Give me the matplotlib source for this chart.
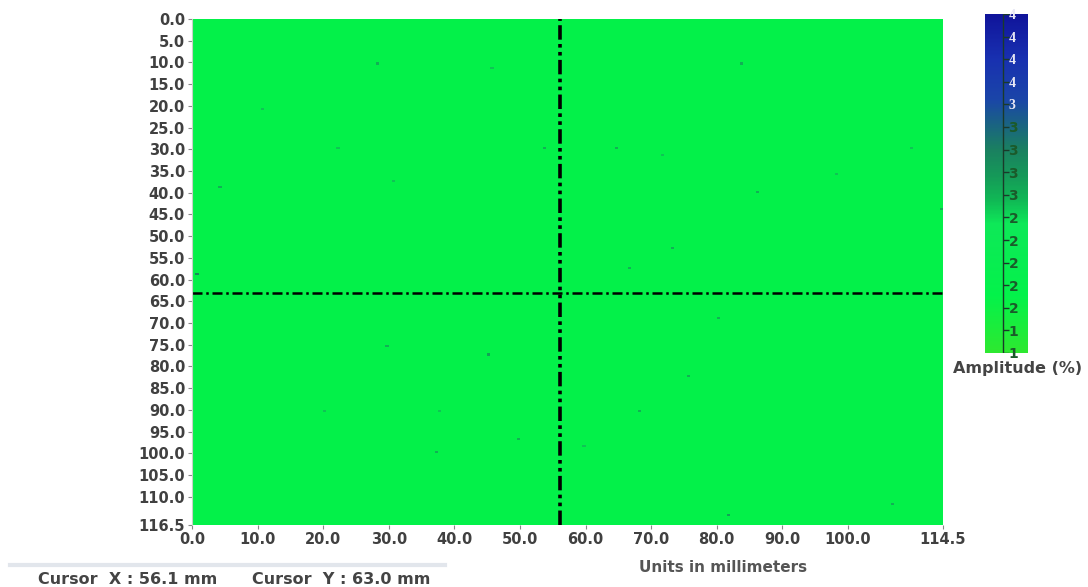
import numpy as np
import matplotlib
matplotlib.use('Agg')
import matplotlib.pyplot as plt
from matplotlib.colors import LinearSegmentedColormap

# ---------------- data ----------------
x_max = 114.5          # mm
y_max = 116.5          # mm
cell = 0.5             # mm per grid cell
base_amp = 1.5         # amplitude (%) of the (almost uniform) field

# scattered darker spots: x (mm), y (mm), amplitude (%)
spot_x = [28.2, 10.7, 4.3, 0.5, 30.6, 53.8, 45.7, 22.3, 83.8, 64.9, 71.6, 86.1, 73.3, 66.8,
          98.3, 114.0, 109.5, 29.7, 45.4, 37.3, 49.5, 37.5, 20.0, 80.0, 75.5, 68.3, 59.6,
          106.9, 81.6]
spot_y = [10.1, 20.5, 38.9, 58.9, 37.1, 29.5, 11.3, 29.7, 10.1, 29.7, 31.3, 39.8, 52.7, 57.1,
          35.9, 43.5, 29.5, 75.1, 77.4, 99.9, 96.5, 90.0, 90.0, 68.8, 82.4, 90.0, 98.1,
          111.9, 114.2]
spot_amp = [2.4, 2.3, 2.4, 2.7, 2.3, 2.4, 2.3, 2.3, 2.4, 2.4, 2.3, 2.4, 2.4, 2.4,
            2.3, 2.4, 2.3, 2.4, 2.5, 2.4, 2.4, 2.3, 2.3, 2.4, 2.4, 2.4, 2.3,
            2.4, 2.5]

cursor_x = 56.1
cursor_y = 63.0

y_ticks = [0, 5, 10, 15, 20, 25, 30, 35, 40, 45, 50, 55, 60, 65, 70, 75, 80, 85, 90, 95,
           100, 105, 110, 116.5]
x_ticks = [0, 10, 20, 30, 40, 50, 60, 70, 80, 90, 100, 114.5]

cbar_min, cbar_max = 1.0, 4.0
cbar_ticks = [1.0, 1.2, 1.4, 1.6, 1.8, 2.0, 2.2, 2.4, 2.6, 2.8, 3.0, 3.2, 3.4, 3.6, 3.8, 4.0]
cbar_labels = ['1', '1', '2', '2', '2', '2', '2', '3', '3', '3', '3', '3', '4', '4', '4', '4']

# ---------------- build grid ----------------
nx = int(round(x_max / cell))
ny = int(round(y_max / cell))
grid = np.full((ny, nx), base_amp)
for sx, sy, sa in zip(spot_x, spot_y, spot_amp):
    i = min(int(sy / cell), ny - 1)
    j = min(int(sx / cell), nx - 1)
    grid[i, j] = sa

cmap = LinearSegmentedColormap.from_list('amp', [
    (0.00, '#2ee830'),
    (0.167, '#03f24a'),
    (0.38, '#0ee858'),
    (0.45, '#10b855'),
    (0.52, '#159a58'),
    (0.60, '#1a8060'),
    (0.67, '#1a6580'),
    (0.75, '#1a45a8'),
    (0.87, '#1830b0'),
    (1.00, '#10149a'),
])

# ---------------- figure ----------------
fig = plt.figure(figsize=(10.88, 5.87), dpi=100)
ax = fig.add_axes([192 / 1088, 1 - 525 / 587, 751 / 1088, 506 / 587])

ax.imshow(grid, cmap=cmap, vmin=cbar_min, vmax=cbar_max, origin='upper',
          extent=[0, x_max, y_max, 0], aspect='auto', interpolation='nearest')
ax.set_xlim(0, x_max)
ax.set_ylim(y_max, 0)

# cursor cross-hair
ax.axvline(cursor_x, color='black', lw=2.6, dashes=(4, 1.2, 1, 1.2, 1, 1.2))
ax.axhline(cursor_y, color='black', lw=1.8, dashes=(4, 1.5, 1, 1.5))

ax.set_xticks(x_ticks)
ax.set_xticklabels(['%.1f' % v for v in x_ticks])
ax.set_yticks(y_ticks)
ax.set_yticklabels(['%.1f' % v for v in y_ticks])
ax.tick_params(axis='both', length=3, width=0.8, color='#888888', labelsize=10.5,
               labelcolor='#404040', pad=2)
for lab in ax.get_xticklabels() + ax.get_yticklabels():
    lab.set_fontweight('bold')
    lab.set_family('DejaVu Sans')
for s in ax.spines.values():
    s.set_visible(False)
ax.spines['left'].set_visible(True)
ax.spines['left'].set_color('#c8d0c8')
ax.spines['left'].set_linewidth(0.8)

# ---------------- colour bar ----------------
cax = fig.add_axes([985 / 1088, 1 - 353 / 587, 43 / 1088, 339 / 587])
cb = fig.colorbar(ax.images[0], cax=cax)
cb.outline.set_visible(False)
cax.set_yticks(cbar_ticks)
cax.set_yticklabels(cbar_labels)
cax.tick_params(axis='y', length=0, pad=-14, labelsize=10)
for lab, val in zip(cax.get_yticklabels(), cbar_ticks):
    if val >= 3.2:
        lab.set_family('Liberation Serif')
        lab.set_color('#e8e8f4')
    else:
        lab.set_family('DejaVu Sans')
        lab.set_color('#1b5a2a')
    lab.set_fontweight('bold')
cax.vlines(0.42, cbar_min, cbar_max, color='#1a3a2a', lw=1.0, transform=cax.get_yaxis_transform())
cax.hlines(cbar_ticks, 0.42, 0.56, color='#1a3a2a', lw=1.0, transform=cax.get_yaxis_transform())
fig.text(1018 / 1088, 1 - 369 / 587, 'Amplitude (%)', ha='center', va='center',
         fontsize=11.5, fontweight='bold', color='#444444', family='DejaVu Sans')

# ---------------- bottom texts ----------------
fig.text(723 / 1088, 1 - 567 / 587, 'Units in millimeters', ha='center', va='center',
         fontsize=11, fontweight='bold', color='#555555', family='DejaVu Sans')
fig.add_artist(plt.Line2D([10 / 1088, 445 / 1088], [1 - 565 / 587, 1 - 565 / 587],
                          color='#e2e6ec', lw=3))
fig.text(38 / 1088, 1 - 580 / 587, 'Cursor  X : %.1f mm' % cursor_x, ha='left', va='center',
         fontsize=11.5, fontweight='bold', color='#444444', family='DejaVu Sans')
fig.text(252 / 1088, 1 - 580 / 587, 'Cursor  Y : %.1f mm' % cursor_y, ha='left', va='center',
         fontsize=11.5, fontweight='bold', color='#444444', family='DejaVu Sans')

fig.savefig('out.png', dpi=100)
